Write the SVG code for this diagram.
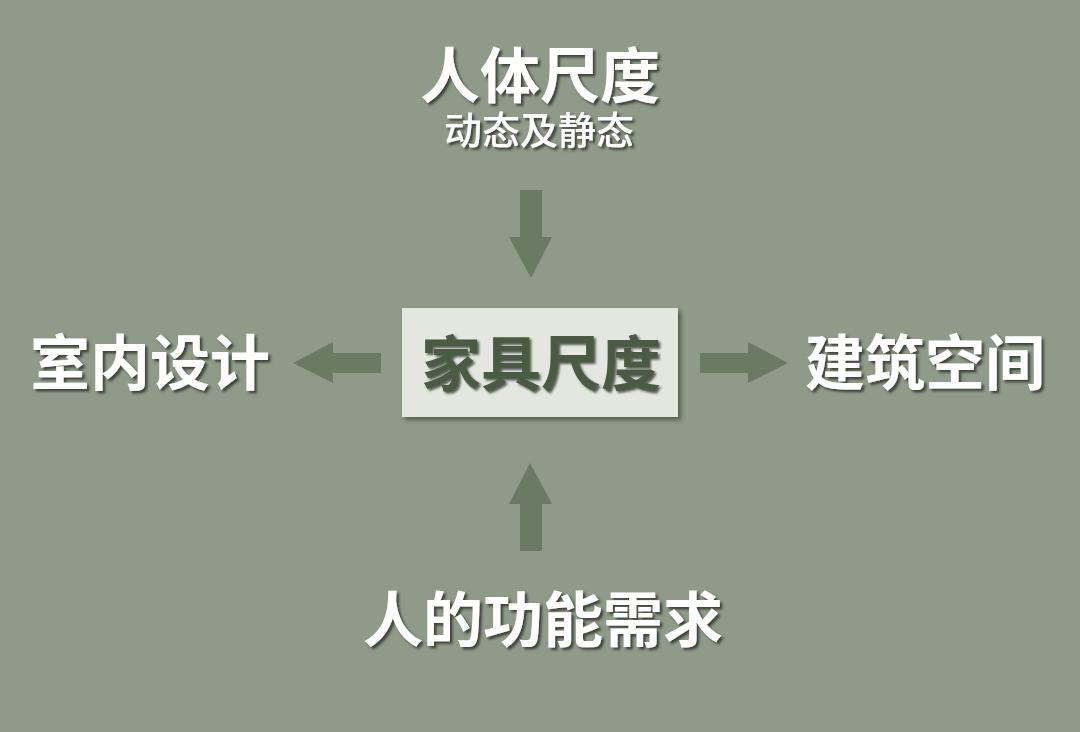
<svg xmlns="http://www.w3.org/2000/svg" width="1080" height="732" viewBox="0 0 1080 732">
<defs>
<style>
.t{font-family:"Noto Sans CJK SC","Noto Sans",sans-serif;font-weight:bold;text-anchor:middle}
.s{font-weight:500}
.w{fill:#ffffff;filter:url(#ts)}
.d{fill:#4b5a42;filter:url(#tsd)}
.a{fill:#6b7a63}
</style>
<filter id="ts" x="-10%" y="-20%" width="130%" height="150%"><feDropShadow dx="2.5" dy="2.5" stdDeviation="1.2" flood-color="#2a3026" flood-opacity="0.8"/></filter>
<filter id="tsd" x="-10%" y="-20%" width="130%" height="150%"><feDropShadow dx="2" dy="2" stdDeviation="1" flood-color="#1e241b" flood-opacity="0.7"/></filter>
<filter id="bs" x="-10%" y="-10%" width="130%" height="140%"><feDropShadow dx="3" dy="3" stdDeviation="2" flood-color="#3a4234" flood-opacity="0.7"/></filter>
</defs>
<rect width="1080" height="732" fill="#8f9a88"/>
<g id="connectors">
<polygon class="a" points="520,190 542,190 542,237 552,237 531,278 509,237 520,237"/>
<polygon class="a" points="520,551 542,551 542,504 552,504 530,463 509,504 520,504"/>
<polygon class="a" points="381,353 381,373 333,373 333,383 293,363 333,342 333,353"/>
<polygon class="a" points="700,353 700,373 748,373 748,383 788,363 748,342 748,353"/>
</g>
<g id="node-top">
<text class="t w" x="540" y="98" font-size="60">人体尺度</text>
<text class="t s w" x="539" y="144" font-size="38">动态及静态</text>
</g>
<g id="node-center">
<rect x="402" y="308" width="276" height="109" fill="#e3e7df" filter="url(#bs)"/>
<text class="t d" x="541" y="386" font-size="60">家具尺度</text>
</g>
<g id="node-left">
<text class="t w" x="150" y="385" font-size="60">室内设计</text>
</g>
<g id="node-right">
<text class="t w" x="925" y="385" font-size="60">建筑空间</text>
</g>
<g id="node-bottom">
<text class="t w" x="543" y="642" font-size="60">人的功能需求</text>
</g>
</svg>
